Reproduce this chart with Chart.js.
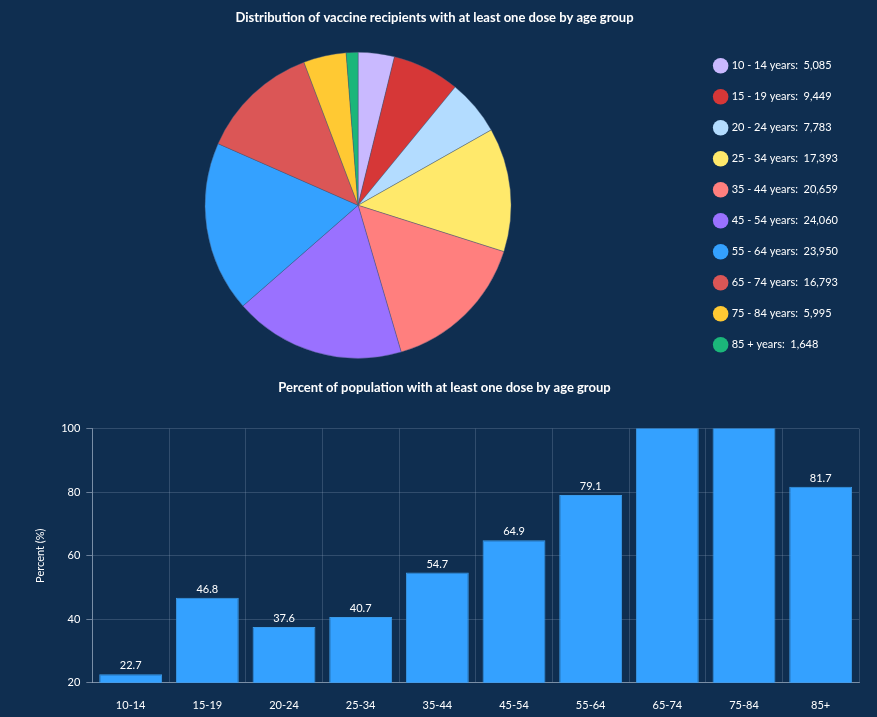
<!DOCTYPE html>
<html>
<head>
<meta charset="utf-8">
<script src="https://cdn.jsdelivr.net/npm/chart.js@4/dist/chart.umd.min.js"></script>
<style>
  html, body { margin: 0; padding: 0; background: #0f2e50; }
  #wrap { position: relative; width: 877px; height: 717px; background: #0f2e50; overflow: hidden; }
  .box { position: absolute; left: 0; width: 877px; }
</style>
</head>
<body>
<div id="wrap">
  <div class="box" style="top:0;height:375px"><canvas id="pieChart"></canvas></div>
  <div class="box" style="top:370px;height:362px"><canvas id="barChart"></canvas></div>
</div>
<script>
// datos del grafico de torta (recipientes por grupo de edad)
const pieLabels = ['10 - 14 years', '15 - 19 years', '20 - 24 years', '25 - 34 years', '35 - 44 years',
  '45 - 54 years', '55 - 64 years', '65 - 74 years', '75 - 84 years', '85 + years'];
const pieValues = [5085, 9449, 7783, 17393, 20659, 24060, 23950, 16793, 5995, 1648];
const pieColors = ['#c9b9ff', '#d63737', '#b3dcff', '#ffe96b', '#ff7f7e',
  '#9a71ff', '#34a1ff', '#db5656', '#ffc933', '#1bb67a'];

// datos del grafico de barras (porcentaje)
const barLabels = ['10-14', '15-19', '20-24', '25-34', '35-44', '45-54', '55-64', '65-74', '75-84', '85+'];
const barValues = [22.7, 46.8, 37.6, 40.7, 54.7, 64.9, 79.1, 104.0, 103.0, 81.7];
const yTicks = [20, 40, 60, 80, 100];

const txt = '#ffffff';
const fontFam = 'Lato, "Open Sans", sans-serif';
Chart.defaults.font.family = fontFam;
Chart.defaults.color = txt;

// la torta tiene radio fijo, el area sobrante deja lugar a la leyenda en una sola columna
const pieChart = new Chart(document.getElementById('pieChart'), {
  type: 'pie',
  data: {
    labels: pieLabels,
    datasets: [{
      data: pieValues,
      backgroundColor: pieColors,
      borderColor: 'rgba(70,90,120,0.7)',
      borderWidth: 0.6,
      radius: 153,
    }],
  },
  options: {
    animation: false,
    responsive: true,
    maintainAspectRatio: false,
    layout: { padding: { left: 21, right: 29, bottom: 0 } },
    plugins: {
      title: {
        display: true,
        text: 'Distribution of vaccine recipients with at least one dose by age group',
        color: txt,
        font: { size: 13, weight: 'bold' },
        padding: { top: 10, bottom: 10 },
      },
      tooltip: { enabled: false },
      legend: {
        position: 'right',
        fullSize: false,
        labels: {
          color: txt,
          font: { size: 11 },
          usePointStyle: true,
          pointStyle: 'circle',
          padding: 20,
          generateLabels: function (chart) {
            return pieLabels.map(function (l, i) {
              return {
                text: l + ':  ' + pieValues[i].toLocaleString('en-US'),
                fillStyle: pieColors[i],
                strokeStyle: pieColors[i],
                lineWidth: 0,
                pointStyle: 'circle',
                fontColor: txt,
                index: i,
              };
            });
          },
        },
      },
    },
  },
});

// etiquetas arriba de cada barra
const barValueLabels = {
  id: 'barValueLabels',
  afterDatasetsDraw(chart) {
    const ctx = chart.ctx;
    const meta = chart.getDatasetMeta(0);
    const max = chart.scales.y.max;
    ctx.save();
    ctx.fillStyle = txt;
    ctx.font = '11px ' + fontFam;
    ctx.textAlign = 'center';
    ctx.textBaseline = 'bottom';
    meta.data.forEach(function (bar, i) {
      if (barValues[i] > max) return;
      ctx.fillText(barValues[i].toFixed(1), bar.x, bar.y - 3);
    });
    ctx.restore();
  },
};

const gridCol = 'rgba(150,170,195,0.25)';
const axisCol = 'rgba(170,185,205,0.6)';

const barChart = new Chart(document.getElementById('barChart'), {
  type: 'bar',
  data: {
    labels: barLabels,
    datasets: [{
      data: barValues,
      backgroundColor: '#34a1ff',
      borderColor: '#3a9ae8',
      borderWidth: 1,
      barPercentage: 0.82,
      categoryPercentage: 1,
    }],
  },
  options: {
    animation: false,
    responsive: true,
    maintainAspectRatio: false,
    layout: { padding: { left: 30, right: 18, top: 0, bottom: 4 } },
    plugins: {
      legend: { display: false },
      tooltip: { enabled: false },
      title: {
        display: true,
        text: 'Percent of population with at least one dose by age group',
        color: txt,
        font: { size: 13, weight: 'bold' },
        padding: { top: 10, bottom: 33 },
      },
    },
    scales: {
      x: {
        grid: { color: gridCol, offset: true, drawTicks: false },
        border: { color: axisCol, width: 1 },
        ticks: { color: txt, font: { size: 11 }, padding: 16 },
      },
      y: {
        min: 20,
        max: 100,
        afterBuildTicks: function (scale) {
          scale.ticks = yTicks.map(function (v) { return { value: v }; });
        },
        grid: { color: gridCol, tickLength: 6, tickColor: axisCol },
        border: { color: axisCol, width: 1 },
        ticks: { color: txt, font: { size: 11 }, padding: 6 },
        title: {
          display: true,
          text: 'Percent (%)',
          color: txt,
          font: { size: 11 },
          padding: { bottom: 8 },
        },
      },
    },
  },
  plugins: [barValueLabels],
});
</script>
</body>
</html>
